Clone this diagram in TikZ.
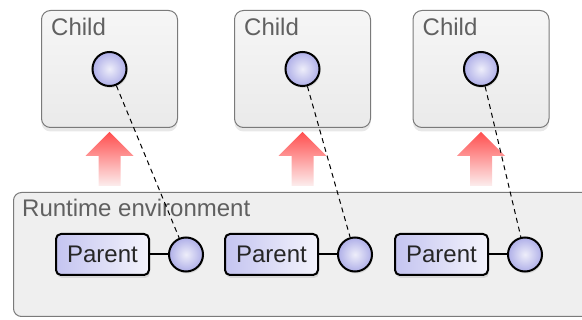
\documentclass[tikz,border=0pt]{standalone}
\usepackage{fontspec}
\setmainfont{Liberation Sans}
\usepackage{tikz}
\usetikzlibrary{positioning,shadows}

\definecolor{frame}{HTML}{7A7A7A}
\definecolor{childtop}{HTML}{F6F6F6}
\definecolor{childbot}{HTML}{EAEAEA}
\definecolor{envgrey}{HTML}{EFEFEF}
\definecolor{titlegrey}{HTML}{606060}
\definecolor{portin}{HTML}{EEEEFA}
\definecolor{portout}{HTML}{AFAFE8}
\definecolor{parentl}{HTML}{C4C4F0}
\definecolor{parentr}{HTML}{F4F4FC}
\definecolor{pushred}{HTML}{FF4E4E}
\definecolor{pushpale}{HTML}{FCEEEE}

\begin{document}
\begin{tikzpicture}[x=1pt, y=-1pt,
    every node/.style={font=\fontsize{24}{28}\selectfont},
    childbox/.style={draw=frame, line width=1pt, rounded corners=9pt,
      top color=childtop, bottom color=childbot,
      minimum width=136pt, minimum height=117pt,
      drop shadow={shadow xshift=0pt, shadow yshift=-4pt, opacity=0.18}},
    envbox/.style={draw=frame, line width=1pt, rounded corners=8pt, fill=envgrey,
      minimum width=620pt, minimum height=124pt, anchor=north west},
    boxtitle/.style={text=titlegrey, inner sep=0pt, anchor=base west},
    port/.style={circle, draw, line width=2pt, minimum size=34pt, inner sep=0pt,
      inner color=portin, outer color=portout,
      drop shadow={shadow xshift=1pt, shadow yshift=-2pt, opacity=0.2}},
    parent/.style={draw, line width=2pt, rounded corners=5pt, inner sep=0pt,
      left color=parentl, right color=parentr, text=black!85,
      minimum width=93pt, minimum height=41pt,
      drop shadow={shadow xshift=1pt, shadow yshift=-3pt, opacity=0.2}},
    link/.style={line width=2pt},
    tie/.style={line width=1pt, dash pattern=on 5pt off 4pt},
    push/.style={top color=pushred, bottom color=pushpale}]
  \clip (0,0) rectangle (582,320);

  % runtime environment
  \node[envbox] (env) at (13,192) {};
  \node[boxtitle] (envt) at ([xshift=9pt,yshift=-25pt]env.north west) {Runtime environment};

  % children
  \node[childbox] (c1) at (109.5,69) {};
  \node[childbox] (c2) at (302.5,69) {};
  \node[childbox] (c3) at (481,69) {};
  \foreach \c in {c1,c2,c3} {
    \node[boxtitle] (\c t) at ([xshift=10pt,yshift=-26pt]\c.north west) {Child};
    \node[port] (\c p) at (\c) {};
    \shade[push] ([yshift=-4pt]\c.south) -- ++(24,24) -- ++(-13,0) -- ++(0,30)
      -- ++(-22,0) -- ++(0,-30) -- ++(-13,0) -- cycle;
  }

  % parents
  \node[parent] (p1) at (102.5,254.5) {Parent};
  \node[parent] (p2) at (271.5,254.5) {Parent};
  \node[parent] (p3) at (441.5,254.5) {Parent};
  \node[port, right=18pt of p1] (p1p) {};
  \node[port, right=18pt of p2] (p2p) {};
  \node[port, right=18pt of p3] (p3p) {};

  \draw[link] (p1) -- (p1p);
  \draw[link] (p2) -- (p2p);
  \draw[link] (p3) -- (p3p);

  \draw[tie] (c1p) -- (p1p);
  \draw[tie] (c2p) -- (p2p);
  \draw[tie] (c3p) -- (p3p);
\end{tikzpicture}
\end{document}
